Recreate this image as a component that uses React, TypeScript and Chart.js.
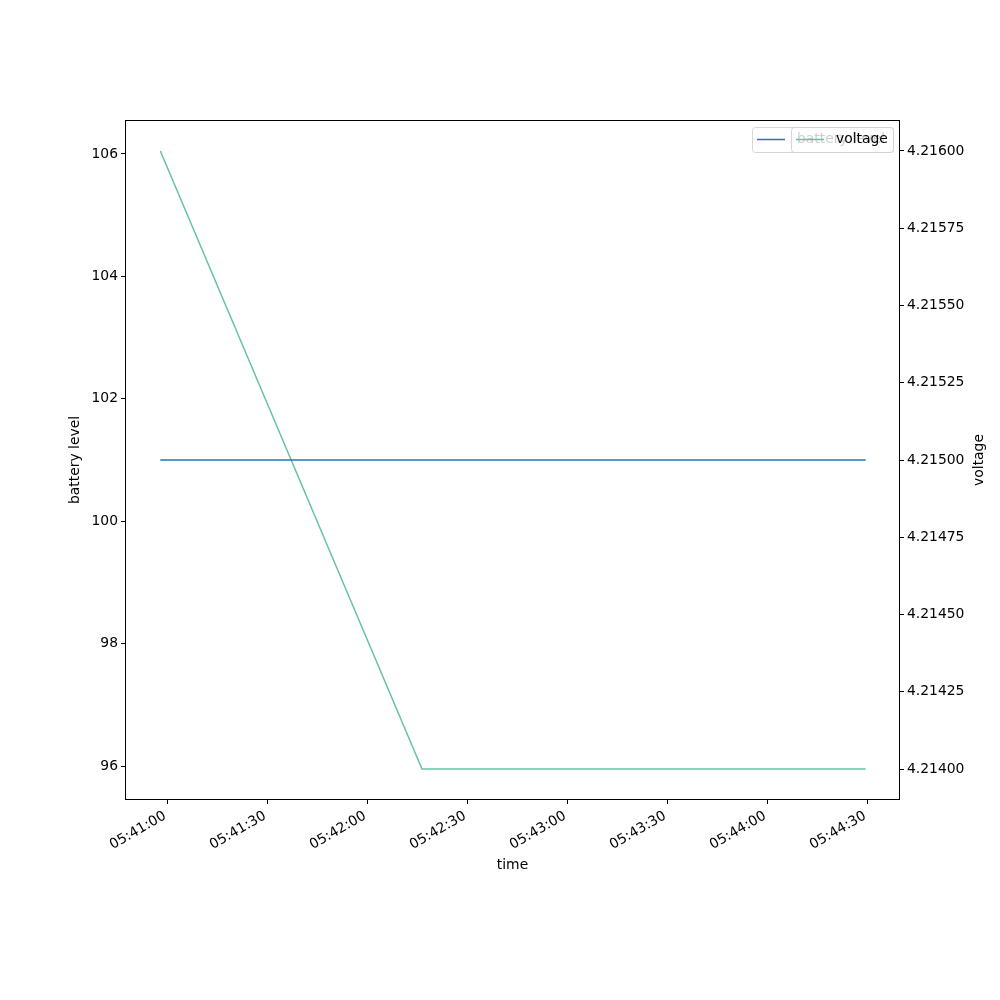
import React, { useEffect, useRef } from "react";
import { Chart, registerables } from "chart.js";

Chart.register(...registerables);

// time in seconds after 05:40:00
const timeSeconds = [58, 136.5, 269.6];
const batteryLevel = [101, 101, 101];
const voltage = [4.216, 4.214, 4.214];
const xTickValues = [60, 90, 120, 150, 180, 210, 240, 270];
const leftTickValues = [96, 98, 100, 102, 104, 106];
const rightTickValues = [4.214, 4.21425, 4.2145, 4.21475, 4.215, 4.21525, 4.2155, 4.21575, 4.216];
const seriesLabels = ["battery level", "voltage"];
const seriesColors = ["#1f77b4", "#66c2a5"];

const FONT = "DejaVu Sans";
const FS = 13.9;

function fmtTime(s: number): string {
  const total = 5 * 3600 + 40 * 60 + Math.round(s);
  const h = Math.floor(total / 3600);
  const m = Math.floor((total % 3600) / 60);
  const sec = total % 60;
  const p = (n: number) => String(n).padStart(2, "0");
  return `${p(h)}:${p(m)}:${p(sec)}`;
}

const decorPlugin = {
  id: "decor",
  afterDatasetsDraw(chart: any) {
    const { ctx, chartArea } = chart;
    ctx.save();
    ctx.strokeStyle = "#000";
    ctx.lineWidth = 1;
    ctx.strokeRect(
      Math.round(chartArea.left) + 0.5,
      Math.round(chartArea.top) + 0.5,
      Math.round(chartArea.right - chartArea.left) - 1,
      Math.round(chartArea.bottom - chartArea.top) - 1
    );
    ctx.restore();
  },
  afterDraw(chart: any) {
    const { ctx, chartArea } = chart;
    const xScale = chart.scales.x;
    ctx.save();
    ctx.fillStyle = "#000";
    ctx.font = `${FS}px "${FONT}"`;

    // rotated x tick labels
    ctx.textAlign = "right";
    ctx.textBaseline = "middle";
    xTickValues.forEach((v) => {
      const px = xScale.getPixelForValue(v);
      ctx.save();
      ctx.translate(px - 2, chartArea.bottom + 15);
      ctx.rotate(-Math.PI / 6);
      ctx.fillText(fmtTime(v), 0, 0);
      ctx.restore();
    });

    ctx.textAlign = "center";
    ctx.textBaseline = "middle";
    // axis titles
    ctx.fillText("time", (chartArea.left + chartArea.right) / 2, chartArea.bottom + 65);
    ctx.save();
    ctx.translate(chartArea.left - 50, (chartArea.top + chartArea.bottom) / 2);
    ctx.rotate(-Math.PI / 2);
    ctx.fillText("battery level", 0, 0);
    ctx.restore();
    ctx.save();
    ctx.translate(chartArea.right + 79, (chartArea.top + chartArea.bottom) / 2);
    ctx.rotate(-Math.PI / 2);
    ctx.fillText("voltage", 0, 0);
    ctx.restore();

    // two overlapping legends (upper right)
    const drawLegend = (left: number, width: number, color: string, label: string) => {
      const top = chartArea.top + 7;
      const h = 25;
      const r = 3;
      ctx.beginPath();
      ctx.roundRect(left + 0.5, top + 0.5, width, h, r);
      ctx.fillStyle = "rgba(255,255,255,0.8)";
      ctx.fill();
      ctx.strokeStyle = "rgba(204,204,204,0.8)";
      ctx.lineWidth = 1;
      ctx.stroke();
      ctx.beginPath();
      ctx.moveTo(left + 5, top + h / 2);
      ctx.lineTo(left + 33, top + h / 2);
      ctx.strokeStyle = color;
      ctx.lineWidth = 1.5;
      ctx.stroke();
      ctx.fillStyle = "#000";
      ctx.textAlign = "left";
      ctx.textBaseline = "middle";
      ctx.fillText(label, left + 45, top + h / 2);
    };
    const right = chartArea.right - 7;
    drawLegend(right - 141, 141, seriesColors[0], seriesLabels[0]);
    drawLegend(right - 102, 102, seriesColors[1], seriesLabels[1]);
    ctx.restore();
  },
};

export default function App() {
  const ref = useRef<HTMLCanvasElement | null>(null);
  useEffect(() => {
    if (!ref.current) return;
    const tickFont = { family: FONT, size: FS };
    const chart = new Chart(ref.current, {
      type: "line",
      data: {
        datasets: [
          {
            label: seriesLabels[0],
            data: timeSeconds.map((t, i) => ({ x: t, y: batteryLevel[i] })),
            borderColor: seriesColors[0],
            borderWidth: 1.5,
            pointRadius: 0,
            tension: 0,
            yAxisID: "y",
          },
          {
            label: seriesLabels[1],
            data: timeSeconds.map((t, i) => ({ x: t, y: voltage[i] })),
            borderColor: seriesColors[1],
            borderWidth: 1.5,
            pointRadius: 0,
            tension: 0,
            yAxisID: "y1",
          },
        ],
      },
      options: {
        animation: false,
        responsive: false,
        layout: { padding: { top: 120, left: 0, right: 0, bottom: 0 } },
        plugins: { legend: { display: false }, tooltip: { enabled: false } },
        scales: {
          x: {
            type: "linear",
            min: 47.4,
            max: 279.9,
            afterBuildTicks: (s: any) => {
              s.ticks = xTickValues.map((v) => ({ value: v }));
            },
            afterFit: (s: any) => {
              s.height = 200;
            },
            grid: { display: true, drawOnChartArea: false, drawTicks: true, tickLength: 4, color: "#000" },
            border: { display: false },
            ticks: {
              font: tickFont,
              color: "rgba(0,0,0,0)",
              padding: 2,
              minRotation: 30,
              maxRotation: 30,
              autoSkip: false,
              callback: (v: any) => fmtTime(Number(v)),
            },
          },
          y: {
            type: "linear",
            position: "left",
            min: 95.445,
            max: 106.555,
            afterBuildTicks: (s: any) => {
              s.ticks = leftTickValues.map((v) => ({ value: v }));
            },
            afterFit: (s: any) => {
              s.width = 125;
            },
            grid: { display: true, drawOnChartArea: false, drawTicks: true, tickLength: 4, color: "#000" },
            border: { display: false },
            ticks: { font: tickFont, color: "#000", padding: 3, callback: (v: any) => String(v) },
          },
          y1: {
            type: "linear",
            position: "right",
            min: 4.2138997,
            max: 4.2161003,
            afterBuildTicks: (s: any) => {
              s.ticks = rightTickValues.map((v) => ({ value: v }));
            },
            afterFit: (s: any) => {
              s.width = 100;
            },
            grid: { display: true, drawOnChartArea: false, drawTicks: true, tickLength: 4, color: "#000" },
            border: { display: false },
            ticks: { font: tickFont, color: "#000", padding: 3, callback: (v: any) => Number(v).toFixed(5) },
          },
        },
      },
      plugins: [decorPlugin],
    } as any);
    return () => chart.destroy();
  }, []);
  return (
    <div style={{ position: "absolute", left: 0, top: 0, width: 1000, height: 1000, background: "#fff" }}>
      <canvas ref={ref} width={1000} height={1000} style={{ width: 1000, height: 1000 }} />
    </div>
  );
}
